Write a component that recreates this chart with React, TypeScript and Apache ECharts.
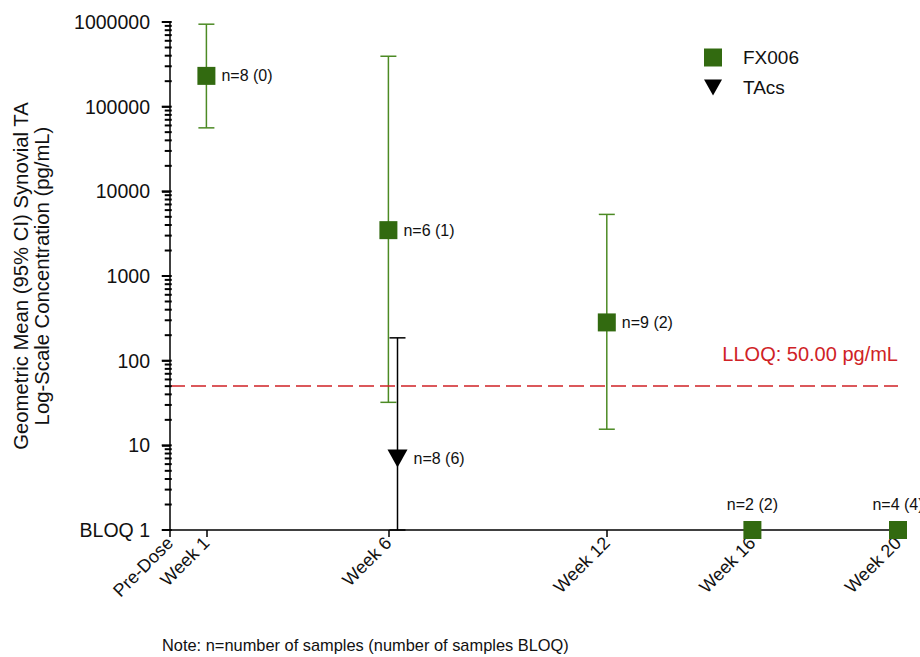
import React, { useEffect, useRef } from "react";
import * as echarts from "echarts";

const weekTicks = [0, 1, 6, 12, 16, 20];
const weekLabels = ["Pre-Dose", "Week 1", "Week 6", "Week 12", "Week 16", "Week 20"];

const fxWeeks = [1, 6, 12, 16, 20];
const fxMean = [231000, 3480, 283, 1, 1];
const fxLower = [56200, 32.2, 15.5, null, null];
const fxUpper = [942000, 394000, 5340, null, null];
const fxN = ["n=8 (0)", "n=6 (1)", "n=9 (2)", "n=2 (2)", "n=4 (4)"];
const fxLabelPos = ["right", "right", "right", "top", "top"];

const taWeeks = [6.25];
const taMean = [7.0];
const taLower = [1];
const taUpper = [186];
const taN = ["n=8 (6)"];

const lloq = 50;
const yMin = 1;
const yMax = 1000000;
const majorTicks = [1, 10, 100, 1000, 10000, 100000, 1000000];
const decades = [1, 10, 100, 1000, 10000, 100000];
const minorSteps = [2, 3, 4, 5, 6, 7, 8, 9];

const FONT = "Liberation Sans, Arial, sans-serif";
const GREEN_MARK = "#326a10";
const GREEN_BAR = "#4c8a24";
const RED = "#cf2226";
const TRI = "path://M0,0 L20,0 L10,18 Z";

function errorRender(color: string) {
  return (params: any, api: any) => {
    const x = api.value(0);
    const lo = api.value(1);
    const hi = api.value(2);
    const top = api.coord([x, hi]);
    const bot = api.coord([x, lo]);
    const w = 8;
    const st = { stroke: color, lineWidth: 1.5 };
    return {
      type: "group",
      children: [
        { type: "line", shape: { x1: top[0], y1: top[1], x2: bot[0], y2: bot[1] }, style: st },
        { type: "line", shape: { x1: top[0] - w, y1: top[1], x2: top[0] + w, y2: top[1] }, style: st },
        { type: "line", shape: { x1: bot[0] - w, y1: bot[1], x2: bot[0] + w, y2: bot[1] }, style: st },
      ],
    };
  };
}

function tickRender(params: any, api: any) {
  const v = api.value(1);
  const len = api.value(2);
  const p = api.coord([api.value(0), v]);
  return {
    type: "line",
    shape: { x1: p[0] - len, y1: p[1], x2: p[0] + 1, y2: p[1] },
    style: { stroke: "#000", lineWidth: 2 },
  };
}

export default function App() {
  const ref = useRef<HTMLDivElement>(null);
  useEffect(() => {
    if (!ref.current) return;
    const chart = echarts.init(ref.current, null, { renderer: "svg" });

    const tickData: number[][] = [];
    majorTicks.forEach((v) => tickData.push([0.02, v, 9]));
    decades.forEach((d) => minorSteps.forEach((k) => tickData.push([0.02, k * d, 6])));

    const fxErr = fxWeeks
      .map((w, i) => [w, fxLower[i], fxUpper[i]])
      .filter((d) => d[1] != null);
    const taErr = taWeeks.map((w, i) => [w, taLower[i], taUpper[i]]);

    const fxData = fxWeeks.map((w, i) => ({
      value: [w, fxMean[i]],
      label: {
        show: true,
        formatter: fxN[i],
        position: fxLabelPos[i],
        distance: fxLabelPos[i] === "top" ? 9 : 6,
      },
    }));
    const taData = taWeeks.map((w, i) => ({
      value: [w, taMean[i]],
      label: { show: true, formatter: taN[i], position: "right", distance: 6 },
    }));

    chart.setOption({
      animation: false,
      textStyle: { fontFamily: FONT },
      grid: { left: 170, right: 22, top: 22, bottom: 127 },
      legend: {
        orient: "vertical",
        left: 699,
        top: 43,
        itemWidth: 18,
        itemHeight: 18,
        itemGap: 11,
        data: [
          { name: "FX006", icon: "rect" },
          { name: "TAcs", icon: TRI },
        ],
        textStyle: { fontSize: 19, color: "#111", fontFamily: FONT, padding: [0, 0, 0, 16] },
      },
      xAxis: {
        type: "value",
        min: 0,
        max: 20,
        splitLine: { show: false },
        axisLine: { show: true, onZero: false, lineStyle: { color: "#000", width: 1.5 } },
        axisTick: { show: true, length: 7, customValues: weekTicks, lineStyle: { color: "#000", width: 1.5 } },
        axisLabel: {
          customValues: weekTicks,
          rotate: 45,
          margin: 10,
          fontSize: 18,
          color: "#111",
          fontFamily: FONT,
          formatter: (v: number) => weekLabels[weekTicks.indexOf(v)] ?? "",
        },
      },
      yAxis: {
        type: "log",
        logBase: 10,
        min: yMin,
        max: yMax,
        splitNumber: 6,
        name: "Geometric Mean (95% CI) Synovial TA\nLog-Scale Concentration (pg/mL)",
        nameLocation: "middle",
        nameRotate: 90,
        nameGap: 118,
        nameTextStyle: { fontSize: 20.3, color: "#111", fontFamily: FONT, lineHeight: 21 },
        splitLine: { show: false },
        axisLine: { show: true, lineStyle: { color: "#000", width: 1.5 } },
        axisTick: { show: true, length: 8, lineStyle: { color: "#000", width: 1.5 } },
        axisLabel: {
          margin: 20,
          fontSize: 19.5,
          color: "#111",
          fontFamily: FONT,
          formatter: (v: number) => (v === 1 ? "BLOQ 1" : String(Math.round(v))),
        },
      },
      graphic: [
        {
          type: "text",
          x: 898,
          y: 354,
          style: {
            text: "LLOQ: 50.00 pg/mL",
            fill: RED,
            fontSize: 20,
            fontFamily: FONT,
            align: "right",
            verticalAlign: "middle",
          },
        },
        {
          type: "text",
          x: 162,
          y: 645,
          style: {
            text: "Note: n=number of samples (number of samples BLOQ)",
            fill: "#111",
            fontSize: 16.4,
            fontFamily: FONT,
            verticalAlign: "middle",
          },
        },
      ],
      series: [
        {
          name: "yTicks",
          type: "custom",
          clip: false,
          silent: true,
          data: tickData,
          encode: { x: 0, y: 1 },
          renderItem: tickRender,
          z: 10,
        },
        {
          name: "lloqLine",
          type: "line",
          data: [],
          markLine: {
            silent: true,
            symbol: "none",
            label: { show: false },
            lineStyle: { color: RED, type: [15, 6], width: 1.6, opacity: 1 },
            data: [[{ coord: [0, lloq] }, { coord: [20, lloq] }]],
          },
        },
        {
          name: "fxErr",
          type: "custom",
          clip: false,
          data: fxErr,
          encode: { x: 0, y: [1, 2] },
          renderItem: errorRender(GREEN_BAR),
          z: 2,
        },
        {
          name: "taErr",
          type: "custom",
          clip: false,
          data: taErr,
          encode: { x: 0, y: [1, 2] },
          renderItem: errorRender("#000"),
          z: 2,
        },
        {
          name: "FX006",
          type: "scatter",
          symbol: "rect",
          symbolSize: 18,
          clip: false,
          itemStyle: { color: GREEN_MARK, opacity: 1 },
          label: { color: "#111", fontSize: 16, fontFamily: FONT },
          data: fxData,
          z: 5,
        },
        {
          name: "TAcs",
          type: "scatter",
          symbol: TRI,
          symbolSize: [20, 18],
          clip: false,
          itemStyle: { color: "#000", opacity: 1 },
          label: { color: "#111", fontSize: 16, fontFamily: FONT },
          data: taData,
          z: 5,
        },
      ],
    });

    return () => chart.dispose();
  }, []);

  return <div ref={ref} style={{ width: 920, height: 657, position: "absolute", left: 0, top: 0 }} />;
}
